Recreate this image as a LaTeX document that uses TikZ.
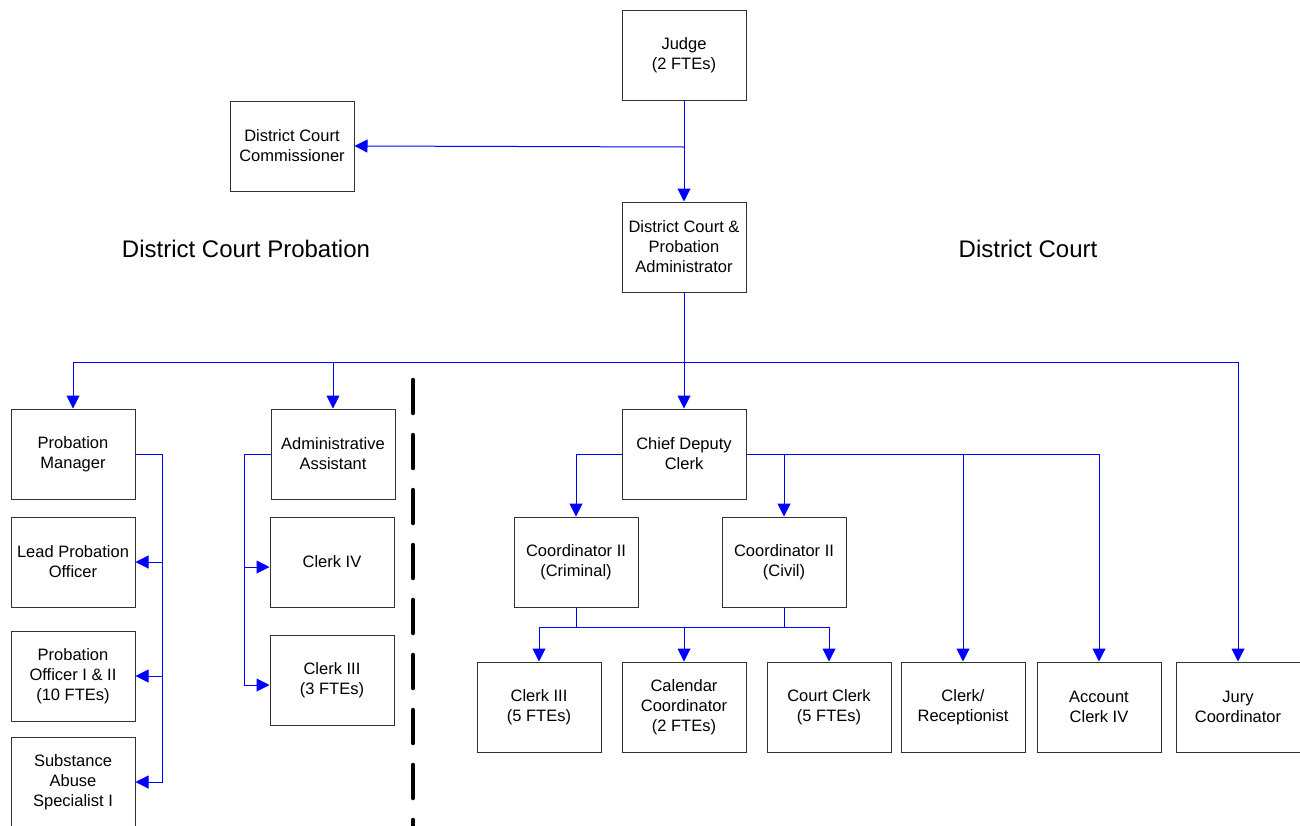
\documentclass[tikz,border=0pt]{standalone}
\usepackage{fontspec}
\setmainfont{Liberation Sans}
\usetikzlibrary{arrows.meta,calc}
\begin{document}
\begin{tikzpicture}[x=1pt,y=-1pt,
  box/.style={draw=black!80,line width=1pt,rectangle,minimum width=124pt,minimum height=90pt,
    align=center,inner sep=0pt,font=\fontsize{16.5}{20}\selectfont},
  head/.style={font=\fontsize{24}{28}\selectfont,inner sep=0pt},
  conn/.style={draw=blue,line width=1pt},
  arr/.style={conn,-{Triangle[length=13pt,width=13pt]},shorten >=0pt},
  divider/.style={draw=black,line width=4.5pt,line cap=round,dash pattern=on 33pt off 22pt}
]
\useasboundingbox (0,0) rectangle (1300,825);

% boxes
\node[box] (judge) at (684,55) {Judge\\(2 FTEs)};
\node[box] (comm) at (292,146) {District Court\\Commissioner};
\node[box] (admin) at (684,247) {District Court \&\\Probation\\Administrator};
\node[box] (pm) at (73,454) {Probation\\Manager};
\node[box] (lpo) at (73,562) {Lead Probation\\Officer};
\node[box] (po) at (73,676) {Probation\\Officer I \& II\\(10 FTEs)};
\node[box] (sas) at (73,782) {Substance\\Abuse\\Specialist I};
\node[box] (aa) at (333,454) {Administrative\\Assistant};
\node[box] (c4) at (332,562) {Clerk IV};
\node[box] (c3a) at (332,680) {Clerk III\\(3 FTEs)};
\node[box] (cdc) at (684,454) {Chief Deputy\\Clerk};
\node[box] (ccrim) at (576,562) {Coordinator II\\(Criminal)};
\node[box] (cciv) at (784,562) {Coordinator II\\(Civil)};
\node[box] (c3b) at (539,707) {Clerk III\\(5 FTEs)};
\node[box] (cal) at (684,707) {Calendar\\Coordinator\\(2 FTEs)};
\node[box] (cc) at (829,707) {Court Clerk\\(5 FTEs)};
\node[box] (cr) at (963,707) {Clerk/\\Receptionist};
\node[box] (ac) at (1099,707) {Account\\Clerk IV};
\node[box] (jury) at (1238,707) {Jury\\Coordinator};

% headings
\node[head] (hprob) at (246,249) {District Court Probation};
\node[head] (hcourt) at (1028,249) {District Court};

% divider
\coordinate (dtop) at (413,380);
\coordinate (dbot) at (413,830);
\draw[divider] (dtop) -- (dbot);

% judge connectors
\coordinate (j1) at (684,147);
\draw[arr] (judge.south) -- (admin.north);
\draw[arr] (j1) -- (comm.east);

% main bus
\coordinate (bus) at (684,362);
\draw[conn] (admin.south) -- (bus);
\draw[arr] (bus) -| (pm.north);
\draw[arr] (bus) -| (aa.north);
\draw[arr] (bus) -- (cdc.north);
\draw[arr] (bus) -| (jury.north);

% probation manager
\coordinate (pmv) at (162,454);
\draw[arr] (pm.east) -- (pmv) -- (pmv |- sas.east) -- (sas.east);
\draw[arr] (pmv |- lpo.east) -- (lpo.east);
\draw[arr] (pmv |- po.east) -- (po.east);

% administrative assistant
\coordinate (aav) at (244,454);
\coordinate (c4in) at ($(c4.west)+(0,5)$);
\coordinate (c3in) at ($(c3a.west)+(0,5)$);
\draw[arr] (aa.west) -- (aav) -- (aav |- c3in) -- (c3in);
\draw[arr] (aav |- c4in) -- (c4in);

% chief deputy clerk
\draw[arr] (cdc.west) -| (ccrim.north);
\draw[arr] (cdc.east) -| (ac.north);
\draw[arr] (cciv.north |- cdc.east) -- (cciv.north);
\draw[arr] (cr.north |- cdc.east) -- (cr.north);

% coordinators
\coordinate (b2) at (684,627);
\draw[conn] (ccrim.south) -- (ccrim.south |- b2);
\draw[conn] (cciv.south) -- (cciv.south |- b2);
\draw[arr] (b2) -| (c3b.north);
\draw[arr] (b2) -- (cal.north);
\draw[arr] (b2) -| (cc.north);
\end{tikzpicture}
\end{document}
